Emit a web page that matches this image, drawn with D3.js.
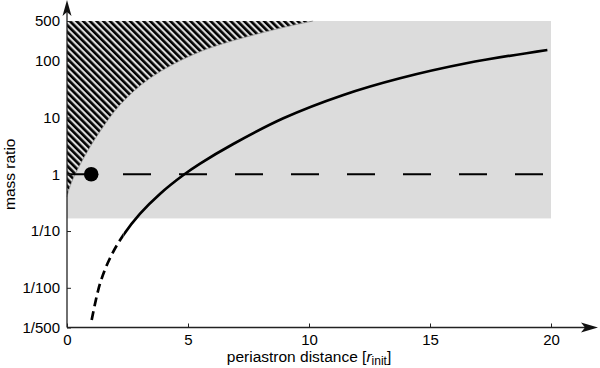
<!DOCTYPE html>
<html lang="en">
	<head>
		<meta charset="utf-8">
		<title>mass ratio vs periastron distance</title>
		<style type="text/css">
		body {
			background-color: white;
			margin: 0px;
			padding: 0px;
		}
		svg {
			display: block;
			font-family: 'Liberation Sans', Arial, sans-serif;
		}
		.tick text {
			font-size: 15px;
			fill: black;
		}
		.axisTitle {
			font-size: 15.5px;
			fill: black;
		}
		</style>
	</head>
	<body>
		<div id="chart"></div>
		<script src="https://d3js.org/d3.v7.min.js"></script>
		<script type="text/javascript">

			// axes
			const xTicks = [0, 5, 10, 15, 20];
			const yTicks = [500, 100, 10, 1, 0.1, 0.01, 0.002];
			const yTickLabels = ["500", "100", "10", "1", "1/10", "1/100", "1/500"];

			// shaded (allowed) region
			const shadeR = [0, 20];
			const shadeQ = [1 / 6, 500];

			// hatched region boundary
			const hatchR = [0, 0.054, 0.26, 0.81, 1.36, 2.19, 3.43, 5.5, 8.51, 10.17];
			const hatchQ = [0.397, 0.493, 0.849, 2.37, 5.62, 16.6, 49, 144, 347, 500];

			// main curve, dashed below rDashEnd
			const curveR = [1.02, 1.36, 1.78, 2.33, 3.02, 3.84, 4.81, 5.5, 6.87, 8.94, 11.42, 13.76, 16.5, 19.85];
			const curveQ = [0.00271, 0.0117, 0.0335, 0.0851, 0.203, 0.451, 0.97, 1.54, 3.41, 9.67, 24.9, 49, 90, 154.5];
			const rDashEnd = 2.33;

			// equal-mass line and marker
			const unityR = [0, 20];
			const unityQ = 1;
			const markerR = 1, markerQ = 1;

			const width = 600,
			    height = 368;

			const xScale = d3.scaleLinear()
			    .domain([0, 20])
			    .range([67, 551]);

			const yScale = d3.scaleLog()
			    .domain([0.002, 500])
			    .range([327.5, 21]);

			const svg = d3.select("#chart")
			    .append("svg")
			    .attr("width", width)
			    .attr("height", height);

			const defs = svg.append("defs");

			const pattern = defs.append("pattern")
			    .attr("id", "hatch")
			    .attr("patternUnits", "userSpaceOnUse")
			    .attr("width", 4.74)
			    .attr("height", 4.74)
			    .attr("patternTransform", "rotate(-45)");

			pattern.append("rect")
			    .attr("x", 0)
			    .attr("y", 0)
			    .attr("width", 2.6)
			    .attr("height", 4.74)
			    .style("fill", "#000");

			// clip paths splitting the main curve into dashed / solid parts
			defs.append("clipPath")
			    .attr("id", "clipDashed")
			    .append("rect")
			    .attr("x", 0)
			    .attr("y", 0)
			    .attr("width", xScale(rDashEnd))
			    .attr("height", height);

			defs.append("clipPath")
			    .attr("id", "clipSolid")
			    .append("rect")
			    .attr("x", xScale(rDashEnd))
			    .attr("y", 0)
			    .attr("width", width)
			    .attr("height", height);

			// gray region
			svg.append("rect")
			    .attr("x", xScale(shadeR[0]))
			    .attr("y", yScale(shadeQ[1]))
			    .attr("width", xScale(shadeR[1]) - xScale(shadeR[0]))
			    .attr("height", yScale(shadeQ[0]) - yScale(shadeQ[1]))
			    .style("fill", "#dcdcdc");

			// hatched region
			const hatchPts = hatchR.map(function(d, i){
				return [d, hatchQ[i]];
			});

			const boundary = d3.line()
			    .x(function(d){ return xScale(d[0]); })
			    .y(function(d){ return yScale(d[1]); })
			    .curve(d3.curveCatmullRom.alpha(0.5));

			const area = d3.area()
			    .x(function(d){ return xScale(d[0]); })
			    .y0(yScale(shadeQ[1]))
			    .y1(function(d){ return yScale(d[1]); })
			    .curve(d3.curveCatmullRom.alpha(0.5));

			svg.append("path")
			    .datum(hatchPts)
			    .attr("d", area)
			    .style("fill", "url(#hatch)");

			svg.append("path")
			    .datum(hatchPts)
			    .attr("d", boundary)
			    .style("fill", "none")
			    .style("stroke", "#999")
			    .style("stroke-width", 0.8);

			// equal mass line
			svg.append("line")
			    .attr("x1", xScale(unityR[0]))
			    .attr("x2", xScale(unityR[1]))
			    .attr("y1", yScale(unityQ))
			    .attr("y2", yScale(unityQ))
			    .style("stroke", "black")
			    .style("stroke-width", 2)
			    .style("stroke-dasharray", "28,28");

			// main curve
			const curvePts = curveR.map(function(d, i){
				return [d, curveQ[i]];
			});

			const line = d3.line()
			    .x(function(d){ return xScale(d[0]); })
			    .y(function(d){ return yScale(d[1]); })
			    .curve(d3.curveCatmullRom.alpha(0.5));

			svg.append("path")
			    .datum(curvePts)
			    .attr("d", line)
			    .attr("clip-path", "url(#clipDashed)")
			    .style("fill", "none")
			    .style("stroke", "black")
			    .style("stroke-width", 2.7)
			    .style("stroke-dasharray", "9,5");

			svg.append("path")
			    .datum(curvePts)
			    .attr("d", line)
			    .attr("clip-path", "url(#clipSolid)")
			    .style("fill", "none")
			    .style("stroke", "black")
			    .style("stroke-width", 2.7);

			svg.append("circle")
			    .attr("cx", xScale(markerR))
			    .attr("cy", yScale(markerQ))
			    .attr("r", 7.3)
			    .style("fill", "black");

			// axes
			const xAxis = d3.axisBottom(xScale)
			    .tickValues(xTicks)
			    .tickSizeInner(-4)
			    .tickSizeOuter(0);

			const yAxis = d3.axisLeft(yScale)
			    .tickValues(yTicks)
			    .tickSizeInner(-4)
			    .tickSizeOuter(0)
			    .tickPadding(7)
			    .tickFormat(function(d, i){ return yTickLabels[i]; });

			const gX = svg.append("g")
			    .attr("transform", "translate(0," + yScale.range()[0] + ")")
			    .call(xAxis);

			const gY = svg.append("g")
			    .attr("transform", "translate(" + xScale.range()[0] + ",0)")
			    .call(yAxis);

			gX.select(".domain").remove();
			gY.select(".domain").remove();
			gX.selectAll(".tick line").style("stroke", "#222");
			gY.selectAll(".tick line").style("stroke", "#222");
			gX.selectAll(".tick text").attr("dy", "0.71em").attr("y", 7);

			const x0 = xScale.range()[0],
			    y0 = yScale.range()[0];

			svg.append("line")
			    .attr("x1", x0)
			    .attr("x2", 590)
			    .attr("y1", y0)
			    .attr("y2", y0)
			    .style("stroke", "#222")
			    .style("stroke-width", 1.3);

			svg.append("line")
			    .attr("x1", x0)
			    .attr("x2", x0)
			    .attr("y1", y0)
			    .attr("y2", 8)
			    .style("stroke", "#222")
			    .style("stroke-width", 1.3);

			// arrow heads
			svg.append("path")
			    .attr("d", "M598," + y0 + "L581," + (y0 - 5) + "L585," + y0 + "L581," + (y0 + 5) + "Z")
			    .style("fill", "#111");

			svg.append("path")
			    .attr("d", "M" + x0 + ",0L" + (x0 - 4.5) + ",16L" + x0 + ",12L" + (x0 + 4.5) + ",16Z")
			    .style("fill", "#111");

			// titles
			const xTitle = svg.append("text")
			    .attr("class", "axisTitle")
			    .attr("x", (xScale.range()[0] + xScale.range()[1]) / 2)
			    .attr("y", 362)
			    .attr("text-anchor", "middle");

			xTitle.append("tspan").text("periastron distance [");
			xTitle.append("tspan").style("font-style", "italic").text("r");
			xTitle.append("tspan")
			    .attr("dy", 2.5)
			    .style("font-size", "12px")
			    .text("init");
			xTitle.append("tspan").attr("dy", -2.5).text("]");

			svg.append("text")
			    .attr("class", "axisTitle")
			    .attr("transform", "translate(15," + yScale(1) + ") rotate(-90)")
			    .attr("text-anchor", "middle")
			    .text("mass ratio");

		</script>
	</body>
</html>
